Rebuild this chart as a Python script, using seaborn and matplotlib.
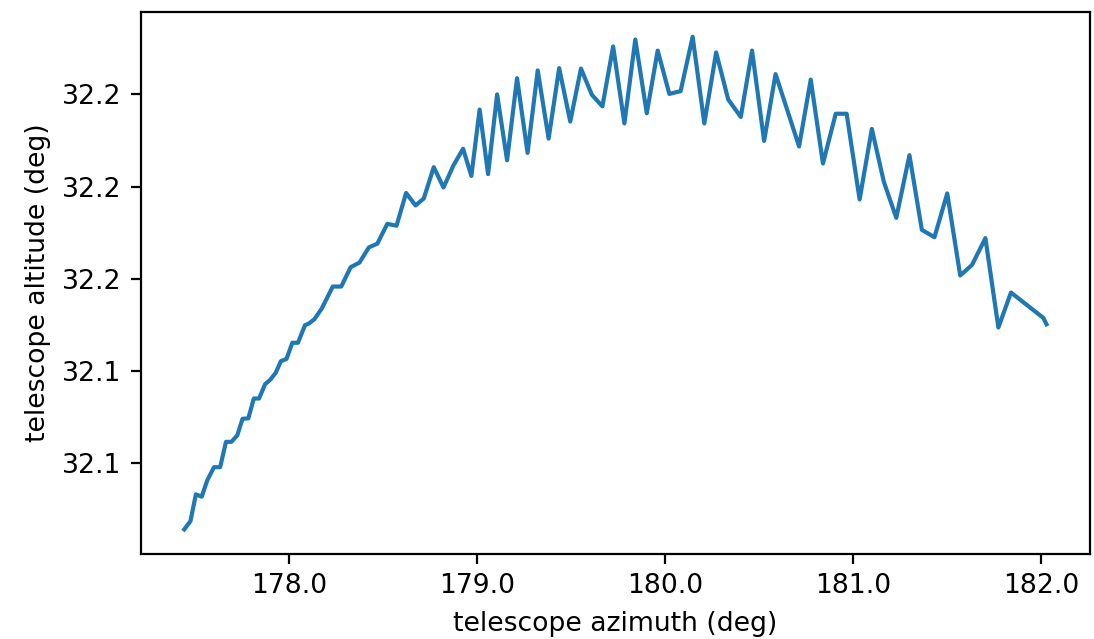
import matplotlib
matplotlib.use("Agg")
import matplotlib.pyplot as plt
from matplotlib.ticker import FormatStrFormatter
import seaborn as sns
import pandas as pd

azimuth = [
    177.444, 177.477, 177.506, 177.537, 177.566, 177.602, 177.635, 177.666, 177.695, 177.726,
    177.754, 177.785, 177.814, 177.842, 177.874, 177.902, 177.931, 177.958, 177.988, 178.019,
    178.049, 178.086, 178.108, 178.136, 178.175, 178.234, 178.279, 178.329, 178.376, 178.426,
    178.471, 178.524, 178.573, 178.624, 178.674, 178.718, 178.771, 178.823, 178.876, 178.927,
    178.971, 179.015, 179.060, 179.108, 179.161, 179.214, 179.270, 179.324, 179.382, 179.438,
    179.497, 179.554, 179.612, 179.668, 179.725, 179.785, 179.843, 179.904, 179.962, 180.024,
    180.084, 180.148, 180.210, 180.273, 180.337, 180.404, 180.464, 180.528, 180.589, 180.652,
    180.714, 180.776, 180.841, 180.909, 180.967, 181.036, 181.101, 181.165, 181.231, 181.301,
    181.367, 181.434, 181.502, 181.571, 181.634, 181.705, 181.774, 181.841, 182.013, 182.030,
]
altitude = [
    32.1056, 32.1074, 32.1132, 32.1127, 32.1162, 32.1191, 32.1191, 32.1246, 32.1246, 32.1260,
    32.1296, 32.1297, 32.1340, 32.1340, 32.1371, 32.1381, 32.1396, 32.1421, 32.1426, 32.1461,
    32.1461, 32.1499, 32.1503, 32.1512, 32.1535, 32.1583, 32.1583, 32.1625, 32.1635, 32.1668,
    32.1676, 32.1719, 32.1715, 32.1786, 32.1759, 32.1774, 32.1842, 32.1798, 32.1846, 32.1882,
    32.1823, 32.1967, 32.1827, 32.2000, 32.1857, 32.2035, 32.1873, 32.2052, 32.1904, 32.2057,
    32.1941, 32.2056, 32.1999, 32.1974, 32.2104, 32.1937, 32.2119, 32.1959, 32.2095, 32.2001,
    32.2007, 32.2125, 32.1937, 32.2091, 32.1989, 32.1951, 32.2095, 32.1899, 32.2044, 32.1965,
    32.1887, 32.2032, 32.1850, 32.1958, 32.1958, 32.1772, 32.1925, 32.1810, 32.1732, 32.1868,
    32.1706, 32.1690, 32.1785, 32.1607, 32.1630, 32.1688, 32.1494, 32.1570, 32.1515, 32.1501,
]

x_label = "telescope azimuth (deg)"
y_label = "telescope altitude (deg)"

df = pd.DataFrame({"az": azimuth, "alt": altitude})

plt.rcParams["font.size"] = 9.6

fig, ax = plt.subplots(figsize=(5.47, 3.195), dpi=200)
fig.subplots_adjust(left=0.129, right=0.996, top=0.981, bottom=0.133)

sns.lineplot(data=df, x="az", y="alt", ax=ax, sort=False, estimator=None,
             color="#1f77b4", linewidth=1.5)

ax.set_xlabel(x_label)
ax.set_ylabel(y_label)
ax.xaxis.set_major_formatter(FormatStrFormatter("%.1f"))
ax.yaxis.set_major_formatter(FormatStrFormatter("%.1f"))

fig.savefig("out.png", dpi=200)
